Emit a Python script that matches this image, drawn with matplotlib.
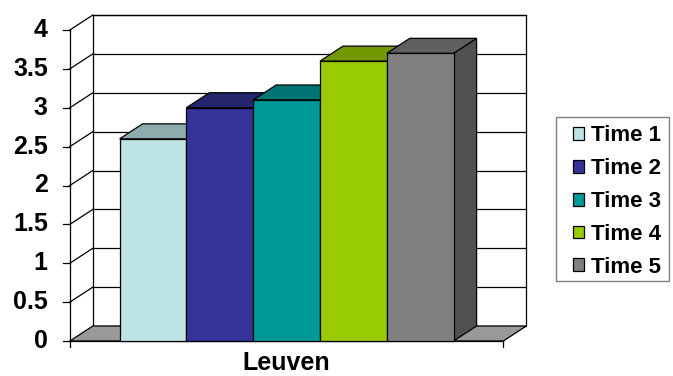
import matplotlib
matplotlib.use("Agg")
import matplotlib.pyplot as plt
from matplotlib.patches import Polygon, Rectangle

# Data
category = "Leuven"
series = ["Time 1", "Time 2", "Time 3", "Time 4", "Time 5"]
values = [2.6, 3.0, 3.1, 3.6, 3.7]
y_ticks = [0, 0.5, 1, 1.5, 2, 2.5, 3, 3.5, 4]
y_tick_labels = ["0", "0.5", "1", "1.5", "2", "2.5", "3", "3.5", "4"]

front_colors = ["#BDE3E5", "#333399", "#009999", "#99CC00", "#808080"]
top_colors = ["#8DACAE", "#26266F", "#007373", "#739900", "#606060"]
side_colors = ["#7F9A9C", "#1F1F5C", "#005E5E", "#5E7D00", "#515151"]

plt.rcParams["font.family"] = ["Liberation Sans", "DejaVu Sans"]

W, H, DPI = 673, 376, 100
fig = plt.figure(figsize=(W / DPI, H / DPI), dpi=DPI)
ax = fig.add_axes([0, 0, 1, 1])
ax.set_axis_off()

# x unit = one bar width; bars centred at 0..4
px_per_x = 66.8
px_per_y = 77.75
x0_px, y0_px = 153.0, 341.0
ax.set_xlim(-x0_px / px_per_x, (W - x0_px) / px_per_x)
ax.set_ylim((y0_px - H) / px_per_y, y0_px / px_per_y)

# oblique depth of the 3-D box
dx = 23 / px_per_x
dy = 15 / px_per_y
n = len(values)
margin = 0.745
xL = -0.5 - margin
xR = (n - 0.5) + margin
ymax = y_ticks[-1]
lc = "black"
lw = 0.9

# back wall and floor
ax.add_patch(Polygon([(xL + dx, dy), (xR + dx, dy), (xR + dx, ymax + dy), (xL + dx, ymax + dy)],
                     closed=True, facecolor="white", edgecolor=lc, lw=lw, zorder=1))
ax.add_patch(Polygon([(xL, 0), (xR, 0), (xR + dx, dy), (xL + dx, dy)],
                     closed=True, facecolor="#999999", edgecolor=lc, lw=lw, zorder=1.5))

# gridlines on back wall and left wall
for v in y_ticks[1:]:
    ax.plot([xL + dx, xR + dx], [v + dy, v + dy], color=lc, lw=lw, zorder=1.2)
    ax.plot([xL, xL + dx], [v, v + dy], color=lc, lw=lw, zorder=1.2)

# front value axis with ticks and labels
ax.plot([xL, xL], [0, ymax], color=lc, lw=lw, zorder=1.3)
tick_len = 0.105
for v, lab in zip(y_ticks, y_tick_labels):
    ax.plot([xL - tick_len, xL], [v, v], color=lc, lw=lw, zorder=1.3)
    ax.text(xL - 0.33, v, lab, ha="right", va="center", fontsize=18,
            fontweight="bold", color="black")

# floor front edge with end ticks
ax.plot([xL, xR], [0, 0], color=lc, lw=lw, zorder=1.6)
for xe in (xL, xR):
    ax.plot([xe, xe], [0, -0.08], color=lc, lw=lw, zorder=1.6)

# bars
handles = []
for i, v in enumerate(values):
    z = 3 + 2 * i
    ax.add_patch(Polygon([(i + 0.5, 0), (i + 0.5 + dx, dy), (i + 0.5 + dx, v + dy), (i + 0.5, v)],
                         closed=True, facecolor=side_colors[i], edgecolor=lc, lw=lw, zorder=z))
    ax.add_patch(Polygon([(i - 0.5, v), (i + 0.5, v), (i + 0.5 + dx, v + dy), (i - 0.5 + dx, v + dy)],
                         closed=True, facecolor=top_colors[i], edgecolor=lc, lw=lw, zorder=z))
    b = ax.bar(i, v, width=1.0, color=front_colors[i], edgecolor=lc, lw=lw,
               zorder=z + 1, label=series[i])
    handles.append(b)

# category label
ax.text((n - 1) / 2, -0.37, category, ha="center", va="baseline", fontsize=18,
        fontweight="bold", color="black")

# legend box
fig.patches.append(Rectangle((556 / W, 1 - 281 / H), 113 / W, 164 / H,
                             transform=fig.transFigure, facecolor="white",
                             edgecolor="#808080", lw=1.0, zorder=1))
leg = fig.legend(handles=handles, labels=series, loc="upper left",
                 bbox_to_anchor=(573 / W, 1 - 125.5 / H),
                 prop={"weight": "bold", "size": 16},
                 frameon=False,
                 handlelength=0.5, handleheight=0.5, handletextpad=0.3,
                 borderpad=0, labelspacing=0.53, borderaxespad=0)
leg.set_zorder(5)

fig.savefig("out.png", dpi=DPI)
